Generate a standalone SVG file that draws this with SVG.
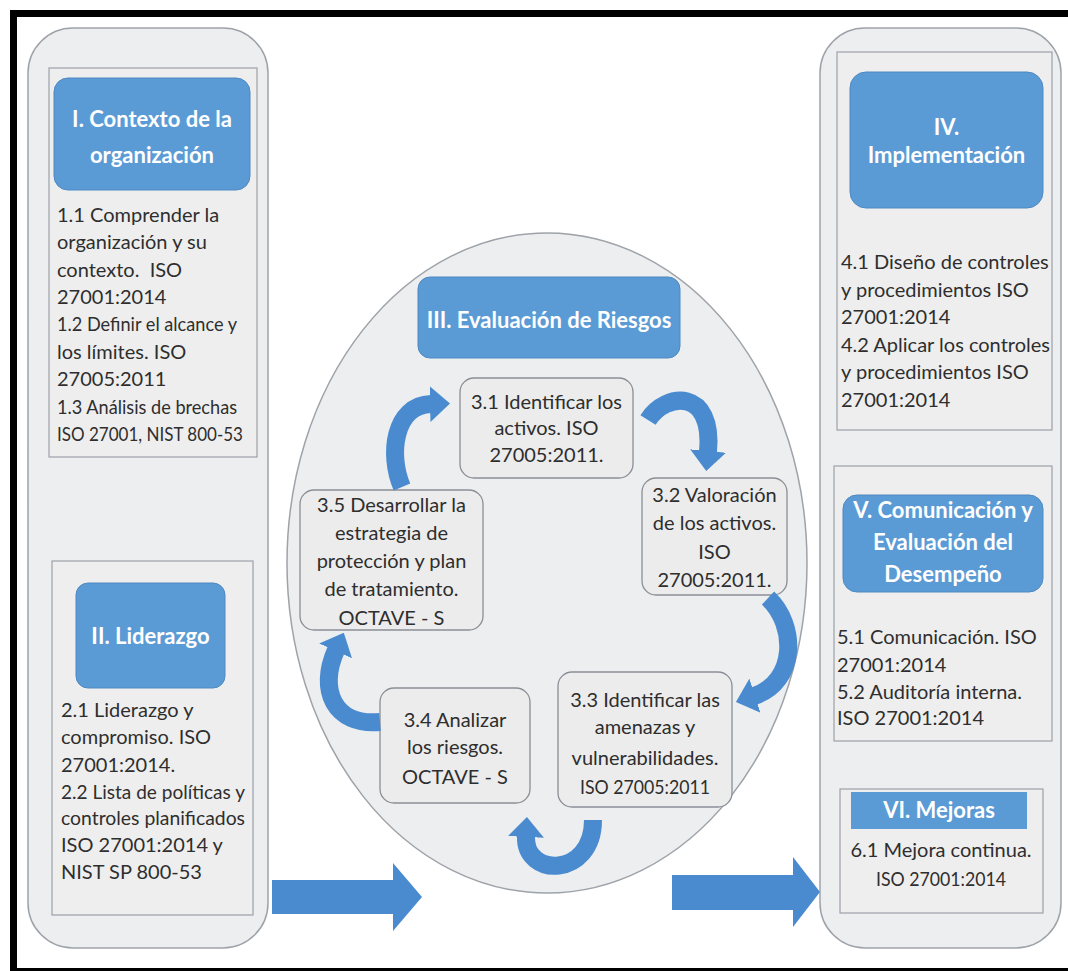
<svg xmlns="http://www.w3.org/2000/svg" width="1068" height="971" viewBox="0 0 1068 971">
<defs>
<style>
.panel{fill:#eceef0;stroke:#9ea3a9;stroke-width:1.5}
.box{fill:#eeeeee;stroke:#9ca1a8;stroke-width:1.2}
.hdr{fill:#5b9bd5;stroke:#4f88c0;stroke-width:1}
.sub{fill:#ececec;stroke:#8a8f96;stroke-width:1.3}
.ht{font-family:Lato,"Liberation Sans",sans-serif;font-size:22px;font-weight:700;fill:#ffffff;text-anchor:middle}
.bt{font-family:Lato,"Liberation Sans",sans-serif;font-size:20px;fill:#2e2e2e}
.c{text-anchor:middle}
.arc{fill:none;stroke:#4a8bd0;stroke-width:18;marker-end:url(#ah)}
.big{fill:#4a8bd0}
</style>
<marker id="ah" viewBox="0 0 20 36" refX="1" refY="18" markerWidth="20" markerHeight="36" markerUnits="userSpaceOnUse" orient="auto"><path d="M0,0 L20,18 L0,36 z" fill="#4a8bd0"/></marker>
</defs>
<rect x="0" y="0" width="1068" height="971" fill="#ffffff"/>
<g id="frame">
<rect x="10" y="10" width="1058" height="7" fill="#000"/>
<rect x="10" y="10" width="7" height="961" fill="#000"/>
<rect x="10" y="968" width="1058" height="3" fill="#000"/>
</g>
<g id="left-panel">
<rect class="panel" x="28" y="28" width="240" height="920" rx="45"/>
</g>
<g id="node-I">
<rect class="box" x="49" y="68" width="208" height="389"/>
<rect class="hdr" x="54" y="78" width="196" height="112" rx="14"/>
<text class="ht" x="152" y="127">I. Contexto de la</text>
<text class="ht" x="152" y="163">organización</text>
<text class="bt" x="57" y="222">1.1 Comprender la</text>
<text class="bt" x="57" y="249">organización y su</text>
<text class="bt" x="57" y="277">contexto.&#160; ISO</text>
<text class="bt" x="57" y="304">27001:2014</text>
<text class="bt" x="57" y="331" textLength="180" lengthAdjust="spacingAndGlyphs">1.2 Definir el alcance y</text>
<text class="bt" x="57" y="359">los límites. ISO</text>
<text class="bt" x="57" y="386">27005:2011</text>
<text class="bt" x="57" y="414" textLength="180" lengthAdjust="spacingAndGlyphs">1.3 Análisis de brechas</text>
<text class="bt" x="57" y="441" textLength="186" lengthAdjust="spacingAndGlyphs">ISO 27001, NIST 800-53</text>
</g>
<g id="node-II">
<rect class="box" x="52" y="561" width="201" height="354"/>
<rect class="hdr" x="76" y="583" width="149" height="105" rx="12"/>
<text class="ht" x="150.5" y="644">II. Liderazgo</text>
<text class="bt" x="61" y="717">2.1 Liderazgo y</text>
<text class="bt" x="61" y="744">compromiso. ISO</text>
<text class="bt" x="61" y="772">27001:2014.</text>
<text class="bt" x="61" y="799" textLength="184" lengthAdjust="spacingAndGlyphs">2.2 Lista de políticas y</text>
<text class="bt" x="61" y="825" textLength="184" lengthAdjust="spacingAndGlyphs">controles planificados</text>
<text class="bt" x="61" y="852">ISO 27001:2014 y</text>
<text class="bt" x="61" y="879">NIST SP 800-53</text>
</g>
<g id="node-III">
<ellipse class="panel" cx="547" cy="563" rx="260" ry="330"/>
<rect class="hdr" x="418" y="277" width="262" height="81" rx="12"/>
<text class="ht" x="549" y="328">III. Evaluación de Riesgos</text>
</g>
<g id="node-3-1">
<rect class="sub" x="460" y="378" width="173" height="100" rx="14"/>
<text class="bt c" x="546.5" y="409">3.1 Identificar los</text>
<text class="bt c" x="546.5" y="435">activos. ISO</text>
<text class="bt c" x="546.5" y="462">27005:2011.</text>
</g>
<g id="node-3-2">
<rect class="sub" x="642" y="478" width="145" height="117" rx="14"/>
<text class="bt c" x="714.5" y="502">3.2 Valoración</text>
<text class="bt c" x="714.5" y="530">de los activos.</text>
<text class="bt c" x="714.5" y="559">ISO</text>
<text class="bt c" x="714.5" y="587">27005:2011.</text>
</g>
<g id="node-3-3">
<rect class="sub" x="558" y="672" width="174" height="135" rx="14"/>
<text class="bt c" x="645" y="707">3.3 Identificar las</text>
<text class="bt c" x="645" y="734">amenazas y</text>
<text class="bt c" x="645" y="765">vulnerabilidades.</text>
<text class="bt c" x="645" y="794" textLength="130" lengthAdjust="spacingAndGlyphs">ISO 27005:2011</text>
</g>
<g id="node-3-4">
<rect class="sub" x="380" y="688" width="150" height="115" rx="14"/>
<text class="bt c" x="455" y="727">3.4 Analizar</text>
<text class="bt c" x="455" y="754">los riesgos.</text>
<text class="bt c" x="455" y="784">OCTAVE - S</text>
</g>
<g id="node-3-5">
<rect class="sub" x="300" y="490" width="183" height="140" rx="14"/>
<text class="bt c" x="391.5" y="512">3.5 Desarrollar la</text>
<text class="bt c" x="391.5" y="540">estrategia de</text>
<text class="bt c" x="391.5" y="568">protección y plan</text>
<text class="bt c" x="391.5" y="596">de tratamiento.</text>
<text class="bt c" x="391.5" y="625">OCTAVE - S</text>
</g>
<g id="right-panel">
<rect class="panel" x="820" y="28" width="241" height="920" rx="45"/>
</g>
<g id="node-IV">
<rect class="box" x="837" y="52" width="215" height="378"/>
<rect class="hdr" x="850" y="72" width="193" height="136" rx="16"/>
<text class="ht" x="946.5" y="135">IV.</text>
<text class="ht" x="946.5" y="163">Implementación</text>
<text class="bt" x="841" y="269">4.1 Diseño de controles</text>
<text class="bt" x="841" y="297">y procedimientos ISO</text>
<text class="bt" x="841" y="324">27001:2014</text>
<text class="bt" x="841" y="352">4.2 Aplicar los controles</text>
<text class="bt" x="841" y="379">y procedimientos ISO</text>
<text class="bt" x="841" y="407">27001:2014</text>
</g>
<g id="node-V">
<rect class="box" x="834" y="466" width="218" height="275"/>
<rect class="hdr" x="843" y="495" width="200" height="97" rx="14"/>
<text class="ht" x="943" y="518">V. Comunicación y</text>
<text class="ht" x="943" y="550">Evaluación del</text>
<text class="ht" x="943" y="582">Desempeño</text>
<text class="bt" x="837" y="644">5.1 Comunicación. ISO</text>
<text class="bt" x="837" y="672">27001:2014</text>
<text class="bt" x="837" y="699">5.2 Auditoría interna.</text>
<text class="bt" x="837" y="725">ISO 27001:2014</text>
</g>
<g id="node-VI">
<rect class="box" x="840" y="789" width="203" height="124"/>
<rect x="851" y="792" width="176" height="37" fill="#5b9bd5"/>
<text class="ht" x="939" y="818">VI. Mejoras</text>
<text class="bt c" x="941" y="857">6.1 Mejora continua.</text>
<text class="bt c" x="941" y="886" textLength="130" lengthAdjust="spacingAndGlyphs">ISO 27001:2014</text>
</g>
<g id="connectors">
<path class="arc" d="M402 487 C388 455 394 405 431 404"/>
<path class="arc" d="M648 420 C666 392 714 388 708 452"/>
<path class="arc" d="M768 598 C797 625 797 682 754 696"/>
<path class="arc" d="M380 722 C334 726 318 690 336 650"/>
<path class="arc" d="M593 820 C593 878 524 878 526 836"/>
<polygon class="big" points="272,880 393,880 393,863 422,897 393,931 393,914 272,914"/>
<polygon class="big" points="672,875 793,875 793,857 820,892 793,927 793,910 672,910"/>
</g>
</svg>
